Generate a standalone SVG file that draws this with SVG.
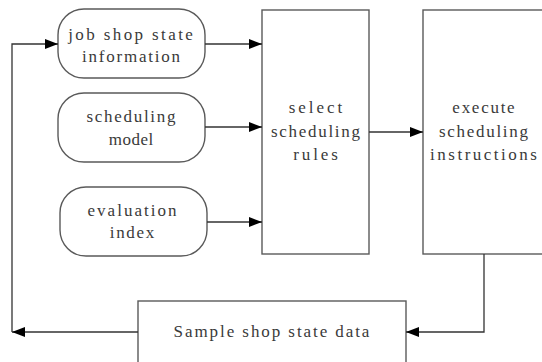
<svg xmlns="http://www.w3.org/2000/svg" width="542" height="362" viewBox="0 0 542 362">
  <style>
    .box { fill: #ffffff; stroke: #5a5a5a; stroke-width: 1.4; }
    .lbl { font-family: "Liberation Serif", "DejaVu Serif", serif; font-size: 17px; fill: #3a3a3a; text-anchor: middle; }
    .wire { fill: none; stroke: #333333; stroke-width: 1.3; }
  </style>
  <defs>
    <marker id="arrow" viewBox="0 0 13 10" refX="13" refY="5" markerWidth="13" markerHeight="10" markerUnits="userSpaceOnUse" orient="auto">
      <path d="M0,0 L13,5 L0,10 Z" fill="#000000"/>
    </marker>
  </defs>
  <rect width="542" height="362" fill="#ffffff"/>

  <g id="job-shop-state">
    <rect class="box" x="58" y="9" width="147" height="69" rx="26" ry="26"/>
    <text class="lbl" x="130.5" y="40" textLength="124.6" lengthAdjust="spacing">job shop state</text>
    <text class="lbl" x="131" y="62" textLength="97.9" lengthAdjust="spacing">information</text>
  </g>
  <g id="scheduling-model">
    <rect class="box" x="58" y="93" width="147" height="69" rx="26" ry="26"/>
    <text class="lbl" x="131" y="122" textLength="89" lengthAdjust="spacing">scheduling</text>
    <text class="lbl" x="131" y="145" textLength="44.5" lengthAdjust="spacing">model</text>
  </g>
  <g id="evaluation-index">
    <rect class="box" x="60" y="187" width="147" height="69" rx="26" ry="26"/>
    <text class="lbl" x="132" y="216" textLength="89" lengthAdjust="spacing">evaluation</text>
    <text class="lbl" x="132" y="238" textLength="44.5" lengthAdjust="spacing">index</text>
  </g>
  <g id="select-rules">
    <rect class="box" x="262" y="10" width="107" height="244"/>
    <text class="lbl" x="315.5" y="113" textLength="53.4" lengthAdjust="spacing">select</text>
    <text class="lbl" x="315.5" y="137" textLength="89" lengthAdjust="spacing">scheduling</text>
    <text class="lbl" x="315.5" y="160" textLength="44.5" lengthAdjust="spacing">rules</text>
  </g>
  <g id="execute-instructions">
    <rect class="box" x="423" y="10" width="122" height="244"/>
    <text class="lbl" x="483.5" y="113" textLength="62.3" lengthAdjust="spacing">execute</text>
    <text class="lbl" x="483.5" y="137" textLength="89" lengthAdjust="spacing">scheduling</text>
    <text class="lbl" x="483.5" y="160" textLength="106.8" lengthAdjust="spacing">instructions</text>
  </g>
  <g id="sample-data">
    <rect class="box" x="138" y="301" width="268" height="62"/>
    <text class="lbl" x="271.5" y="337" textLength="195.8" lengthAdjust="spacing">Sample shop state data</text>
  </g>

  <g id="connectors">
    <line class="wire" x1="205" y1="44" x2="262" y2="44" marker-end="url(#arrow)"/>
    <line class="wire" x1="205" y1="127" x2="262" y2="127" marker-end="url(#arrow)"/>
    <line class="wire" x1="207" y1="222" x2="262" y2="222" marker-end="url(#arrow)"/>
    <line class="wire" x1="369" y1="132" x2="423" y2="132" marker-end="url(#arrow)"/>
    <polyline class="wire" points="484,254 484,332 406,332" marker-end="url(#arrow)"/>
    <line class="wire" x1="138" y1="332" x2="12" y2="332" marker-end="url(#arrow)"/>
    <polyline class="wire" points="12,332 12,44 58,44" marker-end="url(#arrow)"/>
  </g>
</svg>
